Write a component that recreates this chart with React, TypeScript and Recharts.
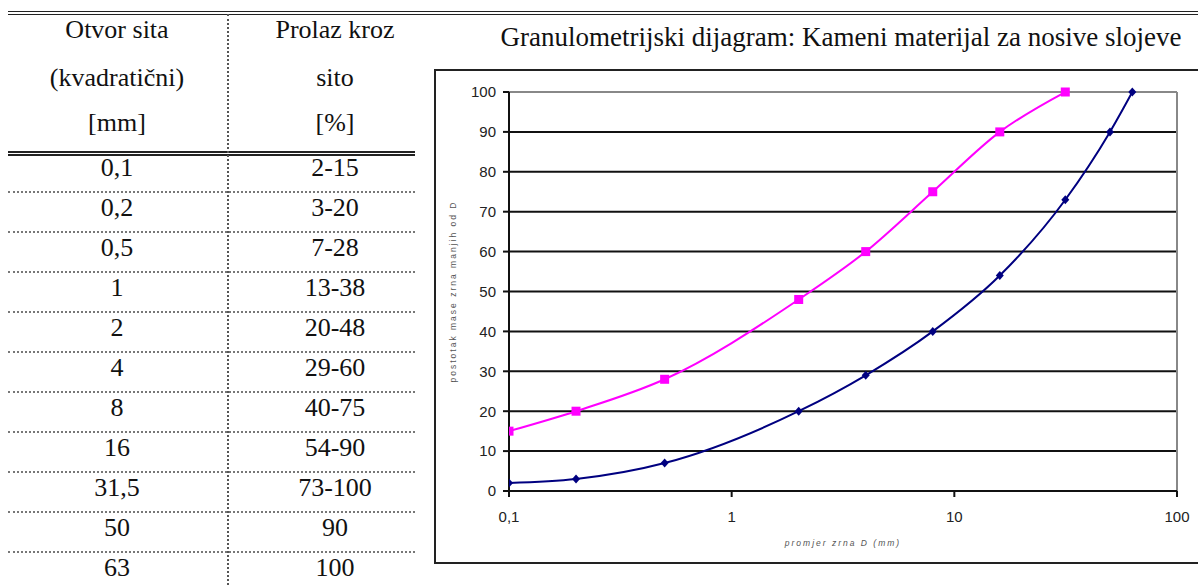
import React from 'react';
import { LineChart, Line, XAxis, YAxis, CartesianGrid, ReferenceLine } from 'recharts';

// table columns
const sieveLabels = ['0,1', '0,2', '0,5', '1', '2', '4', '8', '16', '31,5', '50', '63'];
const passLabels = ['2-15', '3-20', '7-28', '13-38', '20-48', '29-60', '40-75', '54-90', '73-100', '90', '100'];

// lower limit curve (navy)
const lowerSizes = [0.1, 0.2, 0.5, 2, 4, 8, 16, 31.5, 50, 63];
const lowerPass = [2, 3, 7, 20, 29, 40, 54, 73, 90, 100];

// upper limit curve (magenta)
const upperSizes = [0.1, 0.2, 0.5, 2, 4, 8, 16, 31.5];
const upperPass = [15, 20, 28, 48, 60, 75, 90, 100];

const xTicks = [0.1, 1, 10, 100];
const yTicks = [0, 10, 20, 30, 40, 50, 60, 70, 80, 90, 100];

const lowerData = lowerSizes.map((d, i) => ({ d, p: lowerPass[i] }));
const upperData = upperSizes.map((d, i) => ({ d, p: upperPass[i] }));

const SERIF = '"Liberation Serif", "Times New Roman", serif';
const SANS = '"Liberation Sans", Arial, sans-serif';

const Square = (props: any) => {
  const { cx, cy, index } = props;
  return <rect key={`sq-${index}`} x={cx - 4.5} y={cy - 4.5} width={9} height={9} fill="#ff00ff" />;
};

const Diamond = (props: any) => {
  const { cx, cy, index } = props;
  return (
    <path
      key={`dm-${index}`}
      d={`M${cx},${cy - 4.5} L${cx + 4},${cy} L${cx},${cy + 4.5} L${cx - 4},${cy} Z`}
      fill="#000080"
    />
  );
};

const cell = (top: number, center: number, text: string) => (
  <div
    key={`${top}-${center}-${text}`}
    style={{
      position: 'absolute',
      top: top - 15,
      left: center - 100,
      width: 200,
      height: 30,
      lineHeight: '30px',
      textAlign: 'center',
      fontFamily: SERIF,
      fontSize: 26,
      color: '#111',
    }}
  >
    {text}
  </div>
);

const App: React.FC = () => {
  const leftC = 117;
  const rightC = 335;
  return (
    <div style={{ position: 'absolute', left: 0, top: 0, width: 1198, height: 585, overflow: 'hidden', background: '#fff' }}>
      {/* top double rule */}
      <div style={{ position: 'absolute', left: 8, top: 11, width: 1190, borderTop: '4px double #222' }} />

      {/* table header */}
      {cell(30, leftC, 'Otvor sita')}
      {cell(78, leftC, '(kvadratični)')}
      {cell(123, leftC, '[mm]')}
      {cell(30, rightC, 'Prolaz kroz')}
      {cell(78, rightC, 'sito')}
      {cell(123, rightC, '[%]')}
      <div style={{ position: 'absolute', left: 8, top: 151, width: 407, borderTop: '5px double #222' }} />
      <div style={{ position: 'absolute', left: 227, top: 14, height: 571, borderLeft: '2px dotted #555' }} />

      {/* table rows */}
      {sieveLabels.map((s, i) => cell(168 + 40 * i, leftC, s))}
      {passLabels.map((s, i) => cell(168 + 40 * i, rightC, s))}
      {sieveLabels.slice(1).map((_, i) => (
        <div
          key={`sep-${i}`}
          style={{ position: 'absolute', left: 8, top: 191 + 40 * i, width: 407, borderTop: '2px dotted #777' }}
        />
      ))}

      {/* chart title */}
      <div
        style={{
          position: 'absolute',
          left: 441,
          top: 22,
          width: 800,
          textAlign: 'center',
          fontFamily: SERIF,
          fontSize: 27,
          lineHeight: '30px',
          color: '#111',
        }}
      >
        Granulometrijski dijagram: Kameni materijal za nosive slojeve
      </div>

      {/* chart box */}
      <div style={{ position: 'absolute', left: 434, top: 69, width: 780, height: 491, border: '2px solid #222' }} />

      <div style={{ position: 'absolute', left: 435, top: 70 }}>
        <LineChart width={763} height={491} margin={{ top: 22, right: 21, bottom: 0, left: 0 }}>
          <CartesianGrid vertical={false} stroke="#111" strokeWidth={2} strokeOpacity={1} />
          <XAxis
            dataKey="d"
            type="number"
            scale="log"
            domain={[0.1, 100]}
            allowDataOverflow
            ticks={xTicks}
            tickFormatter={(v: number) => String(v).replace('.', ',')}
            axisLine={{ stroke: '#111', strokeWidth: 2 }}
            tickLine={{ stroke: '#111', strokeWidth: 2 }}
            tickSize={6}
            tickMargin={14}
            height={70}
            tick={{ fontFamily: SANS, fontSize: 15, fill: '#222' }}
            label={{
              value: 'promjer zrna D (mm)',
              position: 'insideBottom',
              offset: 15,
              style: { fontFamily: SANS, fontSize: 8.5, fontStyle: 'italic', fill: '#555', letterSpacing: 2 },
            }}
          />
          <YAxis
            type="number"
            domain={[0, 100]}
            ticks={yTicks}
            width={74}
            axisLine={{ stroke: '#111', strokeWidth: 2 }}
            tickLine={{ stroke: '#111', strokeWidth: 2 }}
            tickSize={6}
            tickMargin={7}
            tick={{ fontFamily: SANS, fontSize: 15, fill: '#222' }}
            label={{
              value: 'postotak mase zrna manjih od D',
              angle: -90,
              position: 'insideLeft',
              offset: 18,
              style: { fontFamily: SANS, fontSize: 8.5, fill: '#555', letterSpacing: 2, textAnchor: 'middle' },
            }}
          />
          <ReferenceLine y={100} stroke="#888" strokeWidth={2} />
          <ReferenceLine x={100} stroke="#888" strokeWidth={2} />
          <Line
            data={upperData}
            dataKey="p"
            type="monotone"
            stroke="#ff00ff"
            strokeWidth={2}
            dot={Square}
            isAnimationActive={false}
          />
          <Line
            data={lowerData}
            dataKey="p"
            type="monotone"
            stroke="#000080"
            strokeWidth={2}
            dot={Diamond}
            isAnimationActive={false}
          />
        </LineChart>
      </div>
    </div>
  );
};

export default App;
